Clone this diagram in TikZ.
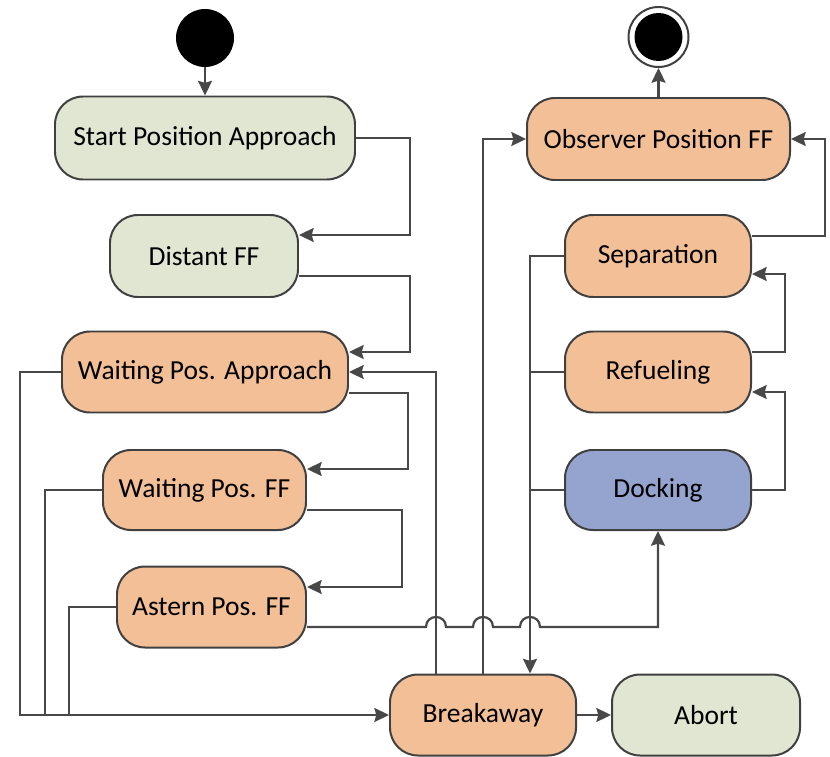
\documentclass[tikz,border=0pt]{standalone}
\usepackage{fontspec}
\setmainfont{Carlito}
\usetikzlibrary{arrows.meta,calc}
\definecolor{grn}{RGB}{224,230,210}
\definecolor{org}{RGB}{243,191,150}
\definecolor{blu}{RGB}{149,164,207}
\definecolor{edge}{RGB}{64,64,64}
\definecolor{wire}{RGB}{72,72,72}
\begin{document}
\begin{tikzpicture}[x=0.03cm,y=-0.03cm,
  state/.style={draw=edge, line width=1.7pt, rounded corners=0.84cm, inner sep=0pt,
    font=\fontsize{23.5}{28}\selectfont, text=black},
  sz/.style 2 args={minimum width=#1*0.03cm, minimum height=#2*0.03cm},
  conn/.style={draw=wire, line width=1.9pt},
  arr/.style={conn, -{Stealth[length=0.44cm,width=0.42cm,inset=0.06cm]}}
]
\useasboundingbox (0,0) rectangle (830,757);

% initial and final pseudo-states
\node[circle, fill=black, minimum size=58*0.03cm, inner sep=0pt] (init) at (205,38) {};
\node[circle, draw=edge, line width=1.7pt, fill=white, minimum size=60*0.03cm, inner sep=0pt] (fin) at (658.5,37) {};
\node[circle, fill=black, minimum size=48*0.03cm, inner sep=0pt] (fincore) at (fin) {};

% states
\node[state, fill=grn, sz={300}{83}] (spa)  at (205,138)   {Start Position Approach};
\node[state, fill=grn, sz={188}{82}] (dff)  at (204,256)   {Distant FF};
\node[state, fill=org, sz={286}{81}] (wpa)  at (205,372)   {Waiting Pos. Approach};
\node[state, fill=org, sz={203}{80}] (wpf)  at (204.5,490) {Waiting Pos. FF};
\node[state, fill=org, sz={189}{81}] (apf)  at (211.5,607) {Astern Pos. FF};
\node[state, fill=org, sz={186}{81}] (brk)  at (483,715)   {Breakaway};
\node[state, fill=grn, sz={188}{81}] (abt)  at (706,715)   {Abort};
\node[state, fill=org, sz={263}{82}] (obs)  at (658.5,139) {Observer Position FF};
\node[state, fill=org, sz={186}{82}] (sep)  at (658,256)   {Separation};
\node[state, fill=org, sz={186}{81}] (ref)  at (658,372)   {Refueling};
\node[state, fill=blu, sz={186}{80}] (dock) at (658,490)   {Docking};

% approach chain
\draw[arr] (init) -- (spa);
\draw[arr] (spa.east) -- (410,138) |- ($(dff.east)+(0,-21)$);
\draw[arr] ($(dff.east)+(0,20)$) -- (410,276) |- ($(wpa.east)+(0,-20)$);
\draw[arr] ($(wpa.east)+(0,21)$) -- (408,393) |- ($(wpf.east)+(0,-21)$);
\draw[arr] ($(wpf.east)+(0,20)$) -- (402,510) |- ($(apf.east)+(0,-20)$);

% astern to docking, hopping over the three verticals
\draw[arr] ($(apf.east)+(0,20)$) -- (426,627)
  .. controls (426,613.7) and (446,613.7) .. (446,627) -- (473,627)
  .. controls (473,613.7) and (493,613.7) .. (493,627) -- (520,627)
  .. controls (520,613.7) and (540,613.7) .. (540,627) -| (dock.south);

% breakaway exits
\draw[arr] ($(brk.north)+(-47,0)$) |- (wpa.east);
\draw[arr] (brk.north) |- (obs.west);
\draw[arr] (brk) -- (abt);

% servicing states into breakaway
\draw[arr] (sep.west) -- (530,256) -- ($(brk.north)+(47,0)$);
\draw[conn] (ref.west) -- (530,372);
\draw[conn] (dock.west) -- (530,490);

% servicing sequence
\draw[arr] (dock.east) -- (785,490) |- ($(ref.east)+(0,20)$);
\draw[arr] ($(ref.east)+(0,-20)$) -- (785,352) |- ($(sep.east)+(0,18)$);
\draw[arr] ($(sep.east)+(0,-20)$) -- (825,236) |- (obs.east);
\draw[arr] (obs.north) -- (fin.south);

% approach states into breakaway
\draw[arr] (wpa.west) -- (20,372) |- (brk.west);
\draw[conn] (wpf.west) -- (45,490) -- (45,715);
\draw[conn] (apf.west) -- (69,607) -- (69,715);
\end{tikzpicture}
\end{document}
